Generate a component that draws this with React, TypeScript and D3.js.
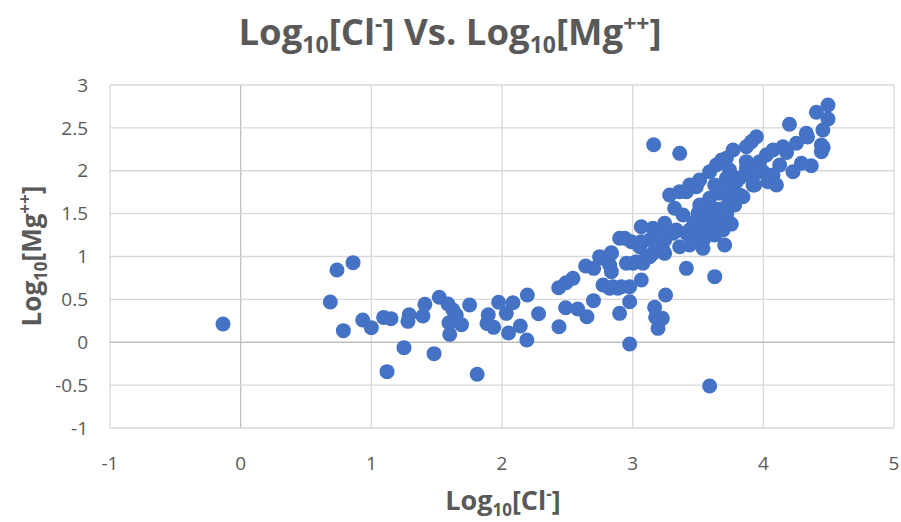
import React from "react";
import * as d3 from "d3";

const xTicks = [-1, 0, 1, 2, 3, 4, 5];
const yTicks = [-1, -0.5, 0, 0.5, 1, 1.5, 2, 2.5, 3];
const yTickLabels = ["-1", "-0.5", "0", "0.5", "1", "1.5", "2", "2.5", "3"];

// log10[Cl-]
const clValues = [
  -0.135, 0.737, 0.86, 0.686, 0.786, 0.934, 1.0, 1.094, 1.15, 1.12, 1.25, 1.29, 1.28, 1.395, 1.41, 1.48,
  1.52, 1.587, 1.625, 1.65, 1.594, 1.69, 1.6, 1.752, 1.81, 1.895, 1.885, 1.936, 1.974, 2.033, 2.084, 2.05,
  2.14, 2.194, 2.19, 2.28, 2.436, 2.434, 2.49, 2.543, 2.487, 2.58, 2.65, 2.64, 2.702, 2.7,
  2.773, 2.849, 2.913, 2.9, 2.99, 3.066, 3.13, 3.066, 3.155, 3.245, 3.334, 3.411, 3.321, 3.385, 3.5, 3.589,
  3.666, 3.283, 3.411, 3.589, 3.742, 3.844, 3.232, 3.105, 3.028, 2.952, 2.824, 3.461, 3.538, 3.615, 3.691,
  3.487, 3.666, 3.768, 3.921, 3.054, 3.155, 3.079, 3.36, 4.2, 4.495, 4.406, 4.495, 4.456, 4.329, 4.444,
  4.444, 4.253, 4.15, 4.074, 4.023, 4.367, 4.291, 4.227, 4.125, 4.074, 4.1, 3.947, 3.908, 3.87, 3.934,
  3.768, 3.717, 3.64, 3.589, 3.436, 3.36, 3.87, 3.972, 3.997, 3.691, 3.819, 3.717, 3.793, 3.87, 3.161,
  4.338, 4.458, 4.178, 4.035, 2.939, 2.837, 2.747, 3.066, 3.245, 3.22, 3.308, 3.36, 3.168, 3.436, 3.513,
  3.411, 3.628, 3.538, 3.704, 3.755, 2.773, 2.837, 2.837, 2.824, 2.887, 2.977, 2.977, 2.9, 3.168, 3.176,
  3.227, 3.194, 3.252, 2.977, 3.589, 3.003, 3.13, 3.513, 3.605, 3.704, 3.781, 3.513, 3.628, 3.742, 3.681,
  3.819, 3.895, 3.949, 3.666, 3.551, 3.245, 3.321, 3.207, 3.436, 3.628, 3.56, 3.65, 3.72, 3.6, 3.47,
];

// log10[Mg++]
const mgValues = [
  0.213, 0.843, 0.928, 0.469, 0.135, 0.26, 0.17, 0.29, 0.275, -0.343, -0.063, 0.32, 0.244, 0.306, 0.442, -0.133,
  0.524, 0.446, 0.376, 0.318, 0.228, 0.205, 0.092, 0.434, -0.374, 0.321, 0.22, 0.174, 0.466, 0.337, 0.461, 0.108,
  0.19, 0.551, 0.026, 0.333, 0.181, 0.636, 0.694, 0.745, 0.403, 0.388, 0.298, 0.889, 0.862, 0.485,
  0.668, 0.648, 0.648, 1.212, 1.173, 1.173, 1.192, 1.347, 1.329, 1.387, 1.309, 1.271, 1.562, 1.484, 1.504, 1.445,
  1.464, 1.717, 1.756, 1.679, 1.659, 1.697, 1.076, 0.998, 0.939, 0.921, 0.901, 1.271, 1.348, 1.387, 1.309,
  1.814, 1.737, 1.776, 1.834, 1.114, 1.037, 0.921, 2.203, 2.542, 2.767, 2.682, 2.603, 2.475, 2.437, 2.3,
  2.222, 2.32, 2.28, 2.242, 2.184, 2.059, 2.087, 1.989, 2.067, 1.95, 1.834, 2.397, 2.339, 2.28, 1.834,
  2.242, 2.145, 2.067, 1.989, 1.834, 1.756, 2.106, 2.106, 1.989, 1.756, 1.717, 1.912, 1.872, 2.028, 2.303,
  2.394, 2.272, 2.212, 1.872, 1.212, 1.037, 0.998, 0.726, 1.037, 1.154, 1.271, 1.114, 1.231, 1.309, 1.192,
  0.862, 0.765, 1.095, 1.134, 1.378, 0.979, 1.044, 0.823, 0.629, 0.629, 0.648, 0.473, 0.337, 0.407, 0.291,
  0.279, 0.162, 0.551, -0.02, -0.51, 0.921, 0.998, 1.601, 1.566, 1.566, 1.601, 1.893, 1.834, 2.009, 2.126,
  1.916, 1.95, 1.985, 1.368, 1.216, 1.192, 1.286, 1.251, 1.134, 1.251, 1.45, 1.55, 1.5, 1.3, 1.4,
];

const W = 901;
const H = 522;
const left = 110;
const right = 894;
const top = 85;
const bottom = 428;
const textColor = "#595959";
const font = "'Open Sans', 'Noto Sans', sans-serif";

export default function App() {
  const x = d3.scaleLinear().domain([-1, 5]).range([left, right]);
  const y = d3.scaleLinear().domain([-1, 3]).range([bottom, top]);
  const points = clValues.map((c, i) => [c, mgValues[i]] as [number, number]);

  return (
    <svg width={W} height={H} style={{ position: "absolute", left: 0, top: 0 }} fontFamily={font}>
      <rect x={0} y={0} width={W} height={H} fill="#fff" />
      {xTicks.map((t) => (
        <line key={"gx" + t} x1={x(t)} x2={x(t)} y1={top} y2={bottom} stroke={t === 0 ? "#bfbfbf" : "#d9d9d9"} strokeWidth={1.3} />
      ))}
      {yTicks.map((t) => (
        <line key={"gy" + t} x1={left} x2={right} y1={y(t)} y2={y(t)} stroke={t === 0 ? "#bfbfbf" : "#d9d9d9"} strokeWidth={1.3} />
      ))}
      {yTicks.map((t, i) => (
        <text key={"ty" + t} x={88} y={y(t)} dy="0.35em" textAnchor="end" fontSize={19} fill={textColor}>
          {yTickLabels[i]}
        </text>
      ))}
      {xTicks.map((t) => (
        <text key={"tx" + t} x={x(t)} y={470} textAnchor="middle" fontSize={19} fill={textColor}>
          {String(t)}
        </text>
      ))}
      {points.map((p, i) => (
        <circle key={i} cx={x(p[0])} cy={y(p[1])} r={7.5} fill="#4472C4" />
      ))}
      <text x={450} y={45} textAnchor="middle" fontSize={36.5} fontWeight="bold" fill={textColor}>
        Log<tspan fontSize={23} dy={8}>10</tspan>
        <tspan dy={-8}>[Cl</tspan>
        <tspan fontSize={23} dy={-13}>-</tspan>
        <tspan dy={13}>] Vs. Log</tspan>
        <tspan fontSize={23} dy={8}>10</tspan>
        <tspan dy={-8}>[Mg</tspan>
        <tspan fontSize={23} dy={-13}>++</tspan>
        <tspan dy={13}>]</tspan>
      </text>
      <text x={503} y={510} textAnchor="middle" fontSize={27} fontWeight="bold" fill={textColor}>
        Log<tspan fontSize={17} dy={6}>10</tspan>
        <tspan dy={-6}>[Cl</tspan>
        <tspan fontSize={17} dy={-10}>-</tspan>
        <tspan dy={10}>]</tspan>
      </text>
      <text transform="translate(41,256) rotate(-90)" textAnchor="middle" fontSize={26} fontWeight="bold" fill={textColor}>
        Log<tspan fontSize={17} dy={6}>10</tspan>
        <tspan dy={-6}>[Mg</tspan>
        <tspan fontSize={17} dy={-10}>++</tspan>
        <tspan dy={10}>]</tspan>
      </text>
    </svg>
  );
}
